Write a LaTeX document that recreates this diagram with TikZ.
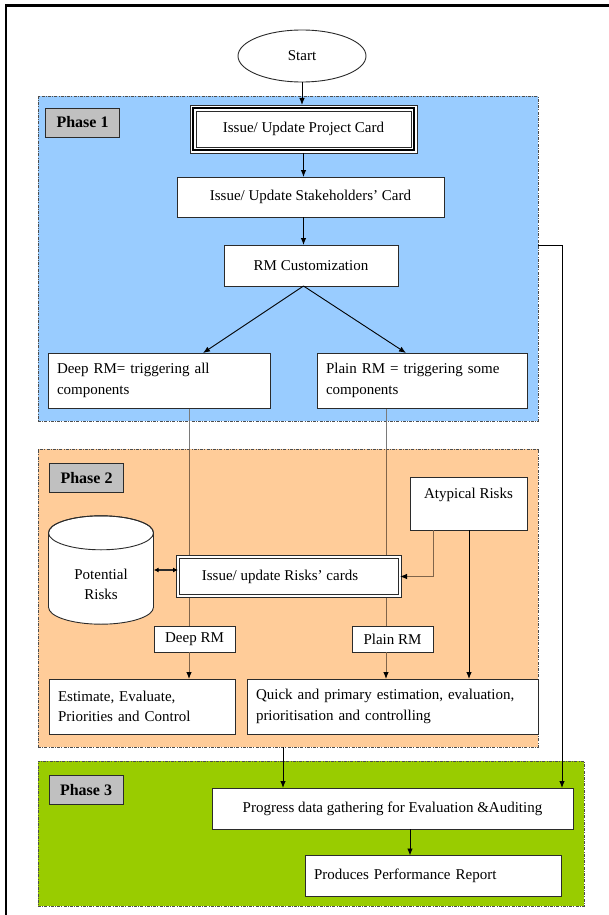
\documentclass[tikz,border=0pt]{standalone}
\usepackage{fontspec}
\setmainfont{Liberation Serif}
\usetikzlibrary{shapes.geometric,arrows.meta,calc}

\definecolor{zoneblue}{HTML}{99CCFF}
\definecolor{zoneorange}{HTML}{FFCC99}
\definecolor{zonegreen}{HTML}{99CC00}
\definecolor{tagfill}{HTML}{C0C0C0}
\definecolor{boxline}{HTML}{2B2B2B}
\definecolor{zoneline}{HTML}{4D4D4D}
\definecolor{feedgray}{HTML}{7A7A7A}
\definecolor{feedbrown}{HTML}{80644A}

\pgfdeclarelayer{zone}
\pgfdeclarelayer{links}
\pgfsetlayers{zone,links,main}

\tikzset{
  txt/.style={font=\fontsize{15}{20.5}\selectfont},
  box/.style={txt, rectangle, draw=boxline, line width=0.9pt, fill=white, inner sep=0pt, outer sep=0pt},
  lbox/.style={box, inner xsep=9pt, align=left},
  tag/.style={rectangle, draw=boxline, line width=0.9pt, fill=tagfill,
    font=\fontsize{16}{19}\bfseries\selectfont, minimum width=74pt, minimum height=29pt, inner sep=0pt},
  zonebox/.style={rectangle, draw=zoneline, line width=0.8pt,
    dash pattern=on 3pt off 1.2pt on 1pt off 1.2pt, inner sep=0pt, outer sep=0pt},
  tip/.style={-{Latex[length=7pt,width=5.5pt,color=black]}},
  flow/.style={tip, line width=0.9pt, draw=black},
  feed/.style={line width=0.9pt, draw=feedgray},
  feedin/.style={line width=0.9pt, draw=feedbrown},
}

\begin{document}
\begin{tikzpicture}[x=1pt,y=-1pt]
\useasboundingbox (0,0) rectangle (609,915);

% page frame
\draw[line width=2.2pt] (6,915) -- (6,5.5) -- (609,5.5);

% phase zones
\begin{pgfonlayer}{zone}
  \node[zonebox, fill=zoneblue,   minimum width=500pt, minimum height=325pt] (phase1) at (288,258.5) {};
  \node[zonebox, fill=zoneorange, minimum width=500pt, minimum height=298pt] (phase2) at (288,598) {};
  \node[zonebox, fill=zonegreen,  minimum width=546pt, minimum height=145pt] (phase3) at (311,833.5) {};
\end{pgfonlayer}

\node[tag] (tag1) at (82.5,122.5) {Phase 1};
\node[tag] (tag2) at (86.5,478) {Phase 2};
\node[tag] (tag3) at (86,790) {Phase 3};

% phase 1
\node[box, ellipse, minimum width=128pt, minimum height=52pt] (start) at (302,56) {Start};
\node[box, minimum width=227pt, minimum height=48pt, line width=0.7pt] (card) at (303.5,129) {Issue/ Update Project Card};
\draw[line width=1.9pt, draw=black] ($(card.north west)+(2.8,2.8)$) rectangle ($(card.south east)+(-2.8,-2.8)$);
\draw[line width=0.7pt, draw=boxline] ($(card.north west)+(6,6)$) rectangle ($(card.south east)+(-6,-6)$);
\node[box, minimum width=267pt, minimum height=40pt] (stake) at (310.5,197) {Issue/ Update Stakeholders’ Card};
\node[box, minimum width=174pt, minimum height=41pt] (rmc) at (311,265.5) {RM Customization};
\node[lbox, text width=204pt, minimum height=55pt] (deep) at (159,380.5) {Deep RM= triggering all\\components};
\node[lbox, text width=192pt, minimum height=55pt] (plain) at (422,380.5) {Plain RM = triggering some\\components};

% phase 2
\node[box, text height=10pt, text depth=20pt, minimum width=117pt, minimum height=53pt] (atyp) at (468.5,503.5) {Atypical Risks};
\node[box, minimum width=222pt, minimum height=39pt, line width=0.7pt, double=white, double distance=2.4pt] (risk) at (289,576.5) {\hspace*{-18pt}Issue/ update Risks’ cards};

% potential risks store: a cylinder drawn round an invisible frame node
\node[txt, align=center, inner sep=0pt, minimum width=105pt, minimum height=108pt] (pot) at (101,570) {};
\coordinate (potT) at ($(pot.north)+(0,17)$);
\coordinate (potB) at ($(pot.south)+(0,-17)$);
\draw[draw=boxline, line width=0.9pt, fill=white]
  ($(potT)+(-52.5,0)$) -- ($(potB)+(-52.5,0)$)
  arc[start angle=180, end angle=0, x radius=52.5, y radius=17]
  -- ($(potT)+(52.5,0)$) arc[start angle=0, end angle=-180, x radius=52.5, y radius=17] -- cycle;
\draw[draw=boxline, line width=0.9pt] (potT) ellipse [x radius=52.5, y radius=17];
\node[txt, align=center, inner sep=0pt] (potlbl) at ($(pot.center)+(0,14.5)$) {Potential\\Risks};

\node[box, minimum width=81pt, minimum height=26pt] (deeplbl) at (194.5,639) {Deep RM};
\node[box, minimum width=81pt, minimum height=26pt] (plainlbl) at (392.5,639) {Plain RM};
\node[lbox, text width=168pt, minimum height=55pt] (est) at (142,706.5) {Estimate, Evaluate,\\Priorities and Control};
\node[lbox, text width=273pt, minimum height=55pt] (quick) at (392.5,706.5) {Quick and primary estimation, evaluation,\\prioritisation and controlling};

% phase 3
\node[box, minimum width=361pt, minimum height=41pt] (prog) at (392.5,808.5) {Progress data gathering for Evaluation \&Auditing};
\node[lbox, text width=238pt, minimum height=41pt] (prod) at (433,876) {Produces Performance Report};

% connector columns
\coordinate (xdeep) at (189,0);
\coordinate (xplain) at (386,0);
\coordinate (xatA) at (433,0);
\coordinate (xatB) at (469,0);
\coordinate (xgather) at (283,0);
\coordinate (xreport) at (410,0);
\coordinate (xsplitL) at (203,0);
\coordinate (xsplitR) at (406,0);
\coordinate (bend) at (562,245);

% connectors
\draw[flow] (start.south) -- (start.south |- card.north);
\draw[flow] (card.south) -- (card.south |- stake.north);
\draw[flow] (card.south |- stake.south) -- (card.south |- rmc.north);
\draw[flow] (card.south |- rmc.south) -- (deep.north -| xsplitL);
\draw[flow] (card.south |- rmc.south) -- (plain.north -| xsplitR);

\begin{pgfonlayer}{links}
  \draw[feed] (deep.south -| xdeep) -- (deeplbl.north -| xdeep);
  \draw[feed] (plain.south -| xplain) -- (plainlbl.north -| xplain);
  \begin{scope}
    \clip (phase2.north west) rectangle (phase2.south east);
    \draw[feedin] (deep.south -| xdeep) -- (deeplbl.north -| xdeep);
    \draw[feedin] (plain.south -| xplain) -- (plainlbl.north -| xplain);
  \end{scope}
\end{pgfonlayer}

\draw[feedin, tip] (deeplbl.south -| xdeep) -- (est.north -| xdeep);
\draw[feedin, tip] (plainlbl.south -| xplain) -- (quick.north -| xplain);
\draw[feedin, tip] (atyp.south -| xatA) |- (risk.east);
\draw[flow] (atyp.south -| xatB) -- (quick.north -| xatB);
\draw[{Latex[length=5pt,width=5pt,color=black]}-{Latex[length=5pt,width=5pt,color=black]}, line width=1.1pt, draw=boxline]
  (pot.east) -- (pot.east -| risk.west);

\draw[flow] (phase2.south -| xgather) -- (prog.north -| xgather);
\draw[flow] (phase1.east |- bend) -- (bend) -- (bend |- prog.north);
\draw[flow] (prog.south -| xreport) -- (prod.north -| xreport);
\end{tikzpicture}
\end{document}
